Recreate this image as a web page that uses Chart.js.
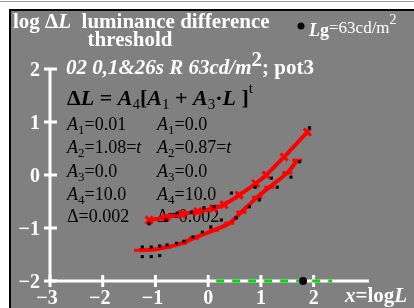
<!DOCTYPE html>
<html><head><meta charset="utf-8">
<script src="https://cdn.jsdelivr.net/npm/chart.js@4"></script>
<style>html,body{margin:0;padding:0;background:#fff;}canvas{display:block;}</style>
</head><body>
<canvas id="c" width="414" height="308"></canvas>
<script>
// ---- data ----
const upperX = [-1.12, -0.80, -0.50, -0.20, 0.10, 0.30, 0.59, 0.90, 1.10, 1.44, 1.88];
const upperY = [-0.85, -0.80, -0.74, -0.69, -0.63, -0.56, -0.38, -0.16, 0.00, 0.34, 0.81];
const lowerX = [-1.31, -1.00, -0.78, -0.50, -0.27, 0.11, 0.40, 0.63, 0.93, 1.16, 1.50, 1.69];
const lowerY = [-1.42, -1.40, -1.36, -1.29, -1.19, -1.04, -0.91, -0.70, -0.42, -0.23, 0.04, 0.28];
const blackUpperX = [-1.12, -0.80, -0.59, -0.32, -0.08, 0.11, 0.44, 0.89, 1.20, 1.92];
const blackUpperY = [-0.92, -0.85, -0.72, -0.70, -0.62, -0.60, -0.34, -0.23, -0.06, 0.89];
const blackLowerX = [-1.25, -1.25, -1.08, -1.08, -0.92, -0.92, -0.78, -0.60, -0.46, -0.29, -0.11, 0.05, 0.25, 0.53, 0.78, 0.97, 1.31, 1.57, 1.73];
const blackLowerY = [-1.36, -1.54, -1.36, -1.54, -1.34, -1.52, -1.32, -1.29, -1.25, -1.17, -1.08, -0.98, -0.85, -0.81, -0.60, -0.47, -0.23, -0.04, 0.25];
const xTicks = [-3, -2, -1, 0, 1, 2];
const yTicks = [-2, -1, 0, 1, 2];
const xMin = -3, xMax = 3.05, yMin = -2, yMax = 2;
const refLogL = 1.8;       // log10(63)
const greenEnd = 2.35;     // green dashed range on the x axis, from 0

const pts = (xs, ys) => xs.map((x, i) => ({x, y: ys[i]}));
const SERIF = '"Liberation Serif", "DejaVu Serif", serif';

function runs(ctx, x, y, parts) {
  for (const p of parts) {
    ctx.font = p[1];
    ctx.fillStyle = p[3] || ctx.fillStyle;
    ctx.fillText(p[0], x, y + (p[2] || 0));
    x += ctx.measureText(p[0]).width;
  }
  return x;
}

const deco = {
  id: 'deco',
  beforeDraw(chart) {
    const ctx = chart.ctx;
    ctx.save();
    ctx.fillStyle = '#ffffff';
    ctx.fillRect(0, 0, 414, 308);
    ctx.fillStyle = '#999';
    ctx.fillRect(0, 1, 414, 1);
    ctx.fillStyle = '#000';
    ctx.fillRect(9, 9, 405, 299);
    ctx.fillStyle = '#808080';
    ctx.fillRect(11, 11, 403, 297);
    ctx.restore();
  },
  beforeDatasetsDraw(chart) {
    const ctx = chart.ctx;
    const xs = chart.scales.x, ys = chart.scales.y;
    ctx.save();
    ctx.textBaseline = 'alphabetic';
    const W = '#ffffff', K = '#000000';
    // axes
    ctx.strokeStyle = W; ctx.lineWidth = 3;
    const x0 = xs.getPixelForValue(xMin), x1 = xs.getPixelForValue(xMax);
    const yb = ys.getPixelForValue(yMin), yt = ys.getPixelForValue(yMax);
    ctx.beginPath(); ctx.moveTo(x0, yb); ctx.lineTo(x1, yb); ctx.stroke();
    ctx.beginPath(); ctx.moveTo(x0, yb); ctx.lineTo(x0, yt); ctx.stroke();
    for (const t of xTicks) {
      const px = xs.getPixelForValue(t);
      ctx.beginPath(); ctx.moveTo(px, yb - 6); ctx.lineTo(px, yb + 6); ctx.stroke();
    }
    for (const t of yTicks) {
      const py = ys.getPixelForValue(t);
      ctx.beginPath(); ctx.moveTo(x0 - 6, py); ctx.lineTo(x0 + 7, py); ctx.stroke();
    }
    // green dashes
    const g0 = xs.getPixelForValue(0), g1 = xs.getPixelForValue(greenEnd);
    ctx.strokeStyle = '#00dd00'; ctx.lineWidth = 3;
    for (let p = g0 + 8; p < g1; p += 16) {
      ctx.beginPath(); ctx.moveTo(p, yb); ctx.lineTo(Math.min(p + 8, g1), yb); ctx.stroke();
    }
    // reference dot
    ctx.fillStyle = K;
    ctx.beginPath(); ctx.arc(xs.getPixelForValue(refLogL), yb, 4, 0, Math.PI * 2); ctx.fill();
    // tick labels
    ctx.fillStyle = W;
    ctx.font = 'bold 20px ' + SERIF;
    ctx.textAlign = 'right';
    for (const t of yTicks) {
      ctx.fillText(t < 0 ? '\u2212' + Math.abs(t) : String(t), 40, ys.getPixelForValue(t) + 7);
    }
    ctx.textAlign = 'center';
    for (const t of xTicks) {
      ctx.fillText(t < 0 ? '\u2212' + Math.abs(t) : String(t), xs.getPixelForValue(t) + (t < 0 ? -3 : 0), 304);
    }
    ctx.textAlign = 'left';
    // x axis title
    runs(ctx, 345, 302, [['x', 'italic bold 21px ' + SERIF, 0, W], ['=log', 'bold 21px ' + SERIF, 0, W], ['L', 'italic bold 21px ' + SERIF, 0, W]]);
    // title
    runs(ctx, 13, 28, [['log \u0394', 'bold 21px ' + SERIF, 0, W], ['L', 'italic bold 21px ' + SERIF, 0, W], ['  luminance difference', 'bold 21px ' + SERIF, 0, W]]);
    ctx.textAlign = 'center';
    ctx.font = 'bold 21px ' + SERIF;
    ctx.fillText('threshold', 130, 46);
    ctx.textAlign = 'left';
    // legend
    ctx.fillStyle = K;
    ctx.beginPath(); ctx.arc(301, 26, 3.5, 0, Math.PI * 2); ctx.fill();
    runs(ctx, 309, 36, [['L', 'italic bold 18px ' + SERIF, 0, W], ['g', 'bold 18px ' + SERIF, 0, W], ['=63cd/m', '17px ' + SERIF, -3, W], ['2', '14px ' + SERIF, -12, W]]);
    // subtitle
    runs(ctx, 66, 74, [['02 0,1&26s R 63cd/m', 'italic bold 21px ' + SERIF, 0, W], ['2', 'bold 21px ' + SERIF, -8, W], ['; pot3', 'bold 21px ' + SERIF, 0, W]]);
    // formula
    const bi = 'italic bold 22px ' + SERIF, b = 'bold 22px ' + SERIF, sn = '15px ' + SERIF;
    runs(ctx, 67, 105, [
      ['\u0394', b, 0, K], ['L', bi, 0, K], [' = ', b, 0, K],
      ['A', bi, 0, K], ['4', sn, 4, K], ['[', b, 0, K],
      ['A', bi, 0, K], ['1', sn, 4, K], [' + ', b, 0, K],
      ['A', bi, 0, K], ['3', sn, 4, K], ['\u00b7', b, 0, K],
      ['L', bi, 0, K], [' ]', b, 0, K], ['t', sn, -12, K]
    ]);
    // parameter columns
    const it = 'italic 18px ' + SERIF, rg = '18px ' + SERIF, sb = '13px ' + SERIF;
    const colL = [['1', '=0.01'], ['2', '=1.08=', 't'], ['3', '=0.0'], ['4', '=10.0']];
    const colR = [['1', '=0.0'], ['2', '=0.87=', 't'], ['3', '=0.0'], ['4', '=10.0']];
    const lineY = [130, 153, 177, 200];
    [[67, colL], [157, colR]].forEach(([cx, col]) => {
      col.forEach((r, i) => {
        const parts = [['A', it, 0, K], [r[0], sb, 4, K], [r[1], rg, 0, K]];
        if (r[2]) parts.push([r[2], it, 0, K]);
        runs(ctx, cx, lineY[i], parts);
      });
      runs(ctx, cx, 222, [['\u0394=0.002', rg, 0, K]]);
    });
    ctx.restore();
  }
};

new Chart(document.getElementById('c'), {
  type: 'scatter',
  data: {
    datasets: [
      { data: pts(blackUpperX, blackUpperY), pointStyle: 'rect', pointRadius: 2.2, backgroundColor: '#000', borderColor: '#000', borderWidth: 0, showLine: false },
      { data: pts(blackLowerX, blackLowerY), pointStyle: 'rect', pointRadius: 2.2, backgroundColor: '#000', borderColor: '#000', borderWidth: 0, showLine: false },
      { data: pts(upperX, upperY), showLine: true, borderColor: '#ff0000', backgroundColor: '#ff0000', borderWidth: 4, tension: 0.3, pointStyle: 'crossRot', pointRadius: 5, pointBorderWidth: 3, pointBorderColor: '#ff0000' },
      { data: pts(lowerX, lowerY), showLine: true, borderColor: '#ff0000', backgroundColor: '#ff0000', borderWidth: 4, tension: 0.3, pointStyle: 'line', pointRadius: 5, pointBorderWidth: 3, pointBorderColor: '#ff0000' }
    ]
  },
  options: {
    responsive: false,
    animation: false,
    events: [],
    layout: { padding: { left: 50, right: 45, top: 69, bottom: 27 } },
    plugins: { legend: { display: false }, tooltip: { enabled: false }, title: { display: false } },
    scales: {
      x: { type: 'linear', min: xMin, max: xMax, display: false },
      y: { type: 'linear', min: yMin, max: yMax, display: false }
    }
  },
  plugins: [deco]
});
</script>
</body></html>
